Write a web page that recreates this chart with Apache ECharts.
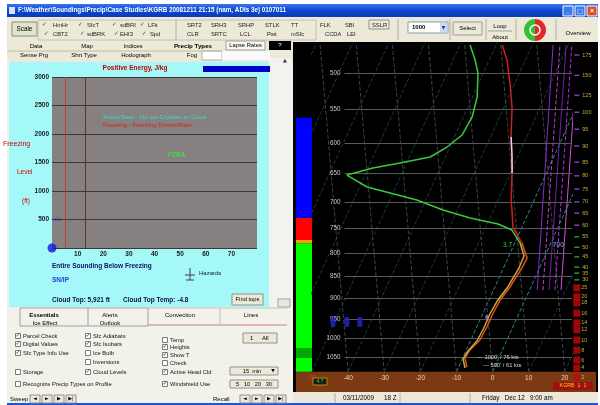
<!DOCTYPE html>
<html><head><meta charset="utf-8">
<script src="https://cdn.jsdelivr.net/npm/echarts@6/dist/echarts.min.js"></script>
<style>html,body{margin:0;padding:0;background:#fff;}#c{width:600px;height:405px;}</style>
</head><body><div id="c"></div>
<script>
// ---------------- DATA ----------------
// Left panel: positive energy chart
const freezeLevelTicks = [0, 500, 1000, 1500, 2000, 2500, 3000];
const energyTicks = [0, 10, 20, 30, 40, 50, 60, 70, 80];
const energyMarkers = [5, 13];
const sfcPoint = [[0, 0]];
const sfcMarker = [[0, 500]];

// Right panel: skew-T sounding (T in degC, p in mb)
const isobarLevels = [500, 550, 600, 650, 700, 750, 800, 850, 900, 950, 1000, 1050];
const isothermTicks = [-50, -40, -30, -20, -10, 0, 10, 20];
const isothermLines = [-90, -80, -70, -60, -50, -40, -30, -20, -10, 0, 10, 20];
const dryAdiabatBase = [-40, -30, -20, -10, 0, 10, 20];
const dryAdiabatTop = [-89, -79, -69, -59, -49, -39, -29];
const mixRatioBaseP = 881, mixRatioTopP = 464.7;
const mixRatioBase = [2.1, 3.7, 5.4, 7.0, 8.7];
const mixRatioTop = [-24.2, -22.3, -20.6, -19.0, -17.3];
const surfaceP = 1091, topP = 462.3, bottomP = 1150;

const tempProfile = [[-38.3,464.7],[-35.1,483.3],[-31.4,513.2],[-27.8,546.4],[-24.3,590.9],[-21.8,619.4],[-19.5,649.2],[-16.4,696.6],[-14.9,715.1],[-12.5,747.5],[-8.0,779.4],[-4.7,810.5],[-4.9,832.0],[-5.8,874.1],[-6.9,904.4],[-7.2,935.6],[-7.2,970.5],[-7.5,1004.0],[-9.0,1030.6],[-9.4,1052.4],[-7.7,1077.4]];
const tempHighlight = [[-24.3,590.9],[-21.8,619.4],[-19.5,649.2]];
const dewUpper = [[-47.2,464.7],[-43.9,483.3],[-41.5,500.0],[-38.7,532.3],[-37.6,560.8],[-38.1,587.8],[-40.8,606.6],[-44.2,622.6],[-51.8,632.5],[-58.7,640.7],[-65.0,652.6],[-57.9,673.3],[-50.8,684.0],[-42.5,696.6],[-34.0,715.1],[-25.5,730.1],[-17.0,741.7],[-12.4,753.4],[-8.5,779.4]];
const dewLower = [[-8.5,779.4],[-5.8,806.3],[-5.7,832.0],[-6.5,876.6],[-7.6,906.8],[-8.0,938.1],[-7.9,973.0],[-8.2,1006.6],[-9.4,1033.2],[-9.8,1055.0],[-8.1,1080.1]];
const windDots = [[-50.4,957.9],[-46.6,957.9],[-43.0,957.9]];
const paleDot = [[-8.4,945.5]];

// precipitation-type column
const precipTop = [562, 730, 773, 780, 1025, 1052];
const precipBot = [730, 773, 780, 1025, 1052, 1091];
const precipKind = ['snow', 'warm', 'mix', 'rain', 'rain2', 'rain'];

// right height label column
const heightLabels = ['175','150','125','100','95','90','85','80','75','70','65','60','55','50','45','40','35','30','25','20','18','16','14','12','10','8','6','4','2'];
const heightLabelP = [477,503,530,554,579,605,631,654,677,700,721,744,767,788,808,830,843,858,876,897,911,936,960,978,1004,1031,1058,1080,1106];

// ---------------- STYLE / LAYOUT ----------------
const FF = '"Liberation Sans", Arial, sans-serif';
const K = 48; // skew
const sk = (t, p) => t + K * Math.log(surfaceP / p);
const skPts = arr => arr.map(d => [sk(d[0], d[1]), d[1]]);
const isobarStartX = -41;
const precipColor = {snow:'#0000ff', warm:'#ff0000', mix:'#ff9a00', rain:'#00ff00', rain2:'#00a800'};

const G = [];
function R(x,y,w,h,fill,stroke,z,lw){G.push({type:'rect',z:(z===undefined?-10:z),silent:true,shape:{x,y,width:w,height:h},style:{fill:fill||'none',stroke:stroke||null,lineWidth:lw||1}});}
function T(x,y,text,color,size,o){o=o||{};G.push({type:'text',z:(o.z===undefined?20:o.z),silent:true,style:{text,x,y,fill:color,fontSize:size||7,fontFamily:o.ff||FF,fontWeight:o.bold?'bold':'normal',align:o.align||'left',verticalAlign:'middle'}});}
function L(x1,y1,x2,y2,color,z,lw){G.push({type:'line',z:(z===undefined?-9:z),silent:true,shape:{x1,y1,x2,y2},style:{stroke:color,lineWidth:lw||1}});}

// window body + title bar
R(7,4,591,400,'#f3f2ea');
G.push({type:'rect',z:-10,silent:true,shape:{x:7,y:4,width:591,height:13},style:{fill:{type:'linear',x:0,y:0,x2:0,y2:1,colorStops:[{offset:0,color:'#3a74ee'},{offset:0.5,color:'#0a48d4'},{offset:1,color:'#0a3cb4'}]}}});
R(9,7,6,7,'#d8e4ff',null,-9);
T(18,10.5,'F:\\Weather\\Soundings\\Precip\\Case Studies\\KGRB 20081211 21:15 (nam, ADIs 3e) 0107011','#ffffff',6.3,{bold:true});
R(563,6,10,10,'#3a7af0','#ffffff',-9); R(575,6,10,10,'#3a7af0','#ffffff',-9); R(587,6,10,10,'#d8502e','#ffffff',-9);
T(568,11,'_','#fff',6,{align:'center',bold:true}); T(580,11,'□','#fff',6,{align:'center',ff:'DejaVu Sans'}); T(592,11,'×','#fff',7,{align:'center',bold:true});

// toolbar
R(7,17,591,25,'#ece9d8');
R(12,22,25,14,'#dde6c6','#8a8a8a',-9);
T(24.5,29,'Scale','#000',6.3,{align:'center'});
R(38,20,138,20,null,'#c4c2b4',-9);
R(176,20,140,20,null,'#c4c2b4',-9);
const row1 = [[53,'HmHr'],[87,'SfcT'],[120,'sdBRI'],[148,'LFk'],[187,'SRT2'],[211,'SRH3'],[238,'SRHP'],[265,'STLK'],[291,'TT'],[320,'FLK'],[345,'SBI']];
const row2 = [[53,'CBT2'],[87,'sdBRK'],[120,'EHI3'],[150,'Spd'],[187,'CLR'],[211,'SRTC'],[240,'LCL'],[267,'Pwt'],[291,'mSfc'],[325,'CCDA'],[347,'LEI']];
row1.forEach(r=>T(r[0],25,r[1],'#202020',5.8));
row2.forEach(r=>T(r[0],34,r[1],'#202020',5.8));
[42,78,112,140].forEach(x=>{T(x,25,'✓','#333',5.5,{ff:'DejaVu Sans'}); T(x+2,34,'✓','#333',5.5,{ff:'DejaVu Sans'});});
R(369,20,20,9,null,'#909090',-9); T(372,25,'SSLR','#202020',5.8);
L(398,19,398,40,'#b0ae9e');
R(408,22,40,11,'#ffffff','#7f9db9',-9); T(412,27.5,'1000','#000',6,{bold:true});
R(440,23,7,9,'#c8d8f8',null,-8); T(443.5,27.5,'▼','#203060',4.5,{align:'center',ff:'DejaVu Sans'});
L(450,19,450,40,'#b0ae9e');
R(453,22,29,13,'#ece9d8','#9a9a9a',-9); T(467.5,28.5,'Select','#000',6,{align:'center'});
L(486,19,486,40,'#b0ae9e');
T(500,26,'Loop','#000',6,{align:'center'}); L(488,31,512,31,'#a0a0a0'); T(500,37,'About','#000',6,{align:'center'});
L(516,19,516,40,'#b0ae9e');
G.push({type:'sector',z:-8,silent:true,shape:{cx:535,cy:30,r:11,startAngle:Math.PI/2,endAngle:Math.PI*1.5},style:{fill:'#34c034'}});
G.push({type:'sector',z:-8,silent:true,shape:{cx:535,cy:30,r:11,startAngle:-Math.PI/2,endAngle:Math.PI/2},style:{fill:'#e02828'}});
G.push({type:'circle',z:-7,silent:true,shape:{cx:535,cy:30,r:5},style:{fill:'none',stroke:'#ffffff',lineWidth:1.5}});
L(556,19,556,40,'#b0ae9e');
T(578,33,'Overview','#000',6,{align:'center'});

// tabs row
R(7,41,286,21,'#ece9d8');
T(36,46,'Data','#000',6,{align:'center'}); T(87,46,'Map','#000',6,{align:'center'});
T(133,46,'Indices','#000',6,{align:'center'}); T(193,46,'Precip Types','#000',6.2,{align:'center',bold:true});
R(226,41,39,9,'#f6f6f2','#a0a0a0',-9); T(245.5,45.5,'Lapse Rates','#000',5.8,{align:'center'});
R(269,41,22,9,'#000000',null,-9); T(280,45.5,'?','#fff',6,{align:'center'});
T(34,55.5,'Sense Prg','#000',6,{align:'center'}); T(84,55.5,'Shrt Type','#000',6,{align:'center'});
T(136,55.5,'Hodograph','#000',6,{align:'center'}); T(192,55.5,'Fog','#000',6,{align:'center'});
R(202,51,20,9,'#ffffff','#b0b0b0',-9);
R(222,51,48,9,'#fafafa',null,-9);
L(7,51,222,51,'#c0bead');

// left panel
R(9,62,260,245,'#a4f8f8');
R(269,58,22,250,'#f2f2ee');
T(285,61,'▲','#333',5,{align:'center',ff:'DejaVu Sans'});
R(278,299,12,8,'#e8e8e0','#a0a0a0',-9);
T(135,68,'Positive Energy, J/kg','#c00000',6.5,{align:'center',bold:true});
R(203,66,67,6,'#0000c8',null,-8);
T(103,117,'Snow/Sleet - No Ice Crystals in Cloud','#3cd8c8',6.2);
T(103,125,'Freezing - Freezing Drizzle/Rain','#d82020',6.2);
T(168,155,'FZRA','#44d844',6.5,{bold:true});
T(3,144,'Freezing','#d00000',7);
T(17,172,'Level','#d00000',6.5);
T(22,201,'(ft)','#d00000',6.5);
T(52,266,'Entire Sounding Below Freezing','#101060',6.5,{bold:true});
T(52,280,'SN/IP','#2040e0',6.5,{bold:true});
L(190,268,190,280,'#404040',20); L(185,275,195,275,'#404040',20); L(186,280,194,280,'#404040',20);
T(199,273,'Hazards','#202020',6);
T(52,300,'Cloud Top: 5,921 ft','#101040',6.5,{bold:true});
T(123,300,'Cloud Top Temp: -4.8','#101040',6.5,{bold:true});
R(232,294,31,11,'#ece9d8','#909090',-8); T(247.5,299.5,'Find tops','#000',5.8,{align:'center'});

// lower-left controls
R(7,307,286,96,'#f3f2ea');
R(20,308,128,18,null,'#a0a0a0',-9); L(88,308,88,326,'#a0a0a0'); L(148,325,287,325,'#c88080');
L(148,308,287,308,'#c0c0c0'); L(220,308,220,325,'#c0c0c0');
T(44,315,'Essentials','#000',6,{align:'center',bold:true}); T(110,315,'Alerts','#000',6,{align:'center'});
T(180,315,'Convection','#000',6,{align:'center'}); T(251,315,'Lines','#000',6,{align:'center'});
T(45,323,'Ice Effect','#000',6,{align:'center'}); T(110,323,'Outlook','#000',6,{align:'center'});
function CB(x,y,c,label){R(x-2.5,y-2.5,5,5,'#ffffff','#7a7a7a',-8); if(c) T(x,y,'✓','#222',5.5,{align:'center',ff:'DejaVu Sans'}); T(x+5,y,label,'#111',5.8);}
CB(18,336,true,'Parcel Check'); CB(18,344,true,'Digital Values'); CB(18,353,true,'Sfc Type Info Use');
CB(18,372,false,'Storage'); CB(18,384,false,'Recognize Precip Types on Profile');
CB(88,336,true,'Sfc Adiabats'); CB(88,344,true,'Sfc Isobars'); CB(88,353,false,'Ice Bulb');
CB(88,362,false,'Inversions'); CB(88,372,true,'Cloud Levels');
CB(165,340,false,'Temp'); CB(165,347,true,'Heights'); CB(165,355,true,'Show T');
CB(165,363,false,'Check'); CB(165,372,true,'Active Head Cld'); CB(165,384,true,'Windshield Use');
R(243,333,34,10,'#ece9d8','#909090',-8); T(250,338,'1','#000',6); T(262,338,'All','#000',6);
R(230,367,48,8,'#ece9d8','#909090',-8); T(252,371,'15  min','#000',5.6,{align:'center'}); T(273,371,'▼','#000',4.5,{align:'center',ff:'DejaVu Sans'});
R(230,380,48,8,'#ece9d8','#909090',-8); T(254,384,'5   10   20   30','#000',5.6,{align:'center'});
T(10,399,'Sweep','#000',6);
['◄','►','▶','▶|'].forEach((s,i)=>{R(30+i*12,395,10,8,'#ece9d8','#909090',-8); T(35+i*12,399,s,'#000',5,{align:'center',ff:'DejaVu Sans'});});
T(213,399,'Recall','#000',6);
['◄','►','▶','▶|'].forEach((s,i)=>{R(240+i*12,395,10,8,'#ece9d8','#909090',-8); T(245+i*12,399,s,'#000',5,{align:'center',ff:'DejaVu Sans'});});

// right panel
R(293,42,305,351,'#000000');
R(293,392,305,11,'#ece9d8');
L(335,393,335,403,'#b0ae9e'); L(400,393,400,403,'#b0ae9e'); L(470,393,470,403,'#b0ae9e');
T(343,398,'03/11/2009','#000',6.3); T(384,398,'18 Z','#000',6.3);
T(482,398,'Friday   Dec 12   9:00 am','#000',6.3);
T(503,245,'3.7','#40d040',6.5);
T(553,245,'700','#80a8ff',6.5);
T(477,357,"— 1000' / 76 kts",'#d8d8d8',5.8);
T(483,365,"— 500' / 61 kts",'#d8d8d8',5.8);
R(313,378,14,7,'#181818','#b09000',20); T(320,381.5,'4.7','#40e040',5,{align:'center',z:21});
R(553,382,40,8,'#a01010',null,20); T(573,386,'KGRB  1  1','#f0d000',5.3,{align:'center',z:21});
R(7,403,591,2,'#1a56d8');

// ---------------- CHART ----------------
const chart = echarts.init(document.getElementById('c'), null, {renderer:'canvas', width:600, height:405});
const skewAx = {xAxisIndex:1, yAxisIndex:1};
const logY = gi => ({gridIndex:gi, type:'log', logBase:10, min:topP, max:bottomP, inverse:true, show:false});
const xMax = 22;
const plain = v => String(v);
const option = {
  animation:false,
  backgroundColor:'#ffffff',
  textStyle:{fontFamily:FF},
  grid:[
    {left:52, top:77, width:205, height:171, show:true, backgroundColor:'#868080', borderWidth:0, containLabel:false, outerBoundsMode:'none'},
    {left:312, top:43, width:260, height:349, show:false, containLabel:false, outerBoundsMode:'none'},
    {left:296, top:43, width:16, height:349, show:false, containLabel:false, outerBoundsMode:'none'},
    {left:572, top:43, width:24, height:349, show:false, containLabel:false, outerBoundsMode:'none'}
  ],
  xAxis:[
    {gridIndex:0, type:'value', min:energyTicks[0], max:energyTicks[energyTicks.length-1], interval:energyTicks[1]-energyTicks[0],
     axisLine:{show:false}, axisTick:{show:false}, splitLine:{show:false},
     axisLabel:{fontSize:6.5, fontWeight:'bold', color:'#1a1a1a', margin:3, showMinLabel:false, showMaxLabel:false, formatter:plain}},
    {gridIndex:1, type:'value', min:isothermTicks[0], max:xMax, interval:isothermTicks[1]-isothermTicks[0], z:10,
     axisLine:{show:false}, axisTick:{show:false}, splitLine:{show:false},
     axisLabel:{inside:true, margin:10, fontSize:6.5, showMaxLabel:false, showMinLabel:true, formatter:plain,
       color:(v)=> (Number(v)===isothermTicks[0] ? '#e03030' : '#f0d8b0')}},
    {gridIndex:2, type:'value', min:0, max:1, show:false},
    {gridIndex:3, type:'value', min:0, max:1, show:false}
  ],
  yAxis:[
    {gridIndex:0, type:'value', min:freezeLevelTicks[0], max:freezeLevelTicks[freezeLevelTicks.length-1], interval:freezeLevelTicks[1]-freezeLevelTicks[0],
     axisLine:{show:false}, axisTick:{show:false}, splitLine:{show:true, lineStyle:{color:'#3c3838', width:1}},
     axisLabel:{fontSize:6.5, fontWeight:'bold', color:'#1a1a1a', margin:3, showMinLabel:false, formatter:plain}},
    logY(1), logY(2), logY(3)
  ],
  series:[
    {type:'scatter', xAxisIndex:0, yAxisIndex:0, data:sfcPoint, symbolSize:9, itemStyle:{color:'#1414d8'}, z:5,
     markLine:{silent:true, symbol:'none', label:{show:false}, animation:false,
       data: energyMarkers.map((v,i)=>({xAxis:v, lineStyle:{color: i===0 ? '#c83a3a' : '#5c3434', width:1, type:'solid'}}))}},
    {type:'scatter', xAxisIndex:0, yAxisIndex:0, data:sfcMarker, symbolSize:1, itemStyle:{color:'#2030e0'},
     label:{show:true, position:'right', distance:1, formatter:'sfc', color:'#2030e0', fontSize:6}},
    // isotherms
    {type:'lines', coordinateSystem:'cartesian2d', ...skewAx, z:2, silent:true,
     data: isothermLines.map(t=>({coords:[[sk(t,surfaceP),surfaceP],[sk(t,topP),topP]],
        lineStyle:{color:(t===0||t===-10)?'#26888e':'#163c48'}})),
     lineStyle:{width:1, type:'dashed', opacity:1}},
    // dry adiabats
    {type:'lines', coordinateSystem:'cartesian2d', ...skewAx, z:2, silent:true,
     data: dryAdiabatBase.map((t,i)=>({coords:[[sk(t,surfaceP),surfaceP],[sk(dryAdiabatTop[i],topP),topP]]})),
     lineStyle:{width:1, type:'dashed', color:'#404040', opacity:1}},
    // mixing ratio lines
    {type:'lines', coordinateSystem:'cartesian2d', ...skewAx, z:2, silent:true,
     data: mixRatioBase.map((t,i)=>({coords:[[sk(t,mixRatioBaseP),mixRatioBaseP],[sk(mixRatioTop[i],mixRatioTopP),mixRatioTopP]],
        lineStyle:{color:['#8a2ad0','#c040c8','#7020b0','#b030e0','#d050d0'][i], type: i%2 ? 'dashed' : 'solid'}})),
     lineStyle:{width:1, opacity:1}},
    // isobars
    {type:'lines', coordinateSystem:'cartesian2d', ...skewAx, z:3, silent:true,
     data: isobarLevels.map(p=>({name:String(p), coords:[[isobarStartX,p],[xMax,p]]})),
     lineStyle:{width:1, type:'solid', color:'#5a5a5a', opacity:1},
     label:{show:true, position:'start', formatter:'{b}', color:'#c8c8c8', fontSize:6.3, distance:4}},
    // temperature
    {type:'line', ...skewAx, z:6, symbol:'none', data: skPts(tempProfile.filter(d=>d[1]<=779.4)),
     lineStyle:{color:'#cc2020', width:1.5}},
    {type:'line', ...skewAx, z:6, symbol:'none', data: skPts(tempProfile.filter(d=>d[1]>=779.4)),
     lineStyle:{color:'#e0561c', width:1.5}},
    {type:'line', ...skewAx, z:7, symbol:'none', data: skPts(tempHighlight),
     lineStyle:{color:'#f4c8f4', width:1.5}},
    // dewpoint
    {type:'line', ...skewAx, z:6, symbol:'none', data: skPts(dewUpper),
     lineStyle:{color:'#3cc83c', width:1.5}},
    {type:'line', ...skewAx, z:6, symbol:'none', data: skPts(dewLower),
     lineStyle:{color:'#c8a838', width:1.5}},
    {type:'scatter', ...skewAx, z:6, data: skPts(windDots), symbol:'roundRect', symbolSize:[5,10],
     itemStyle:{color:'#2424d0'}},
    {type:'scatter', ...skewAx, z:6, data: skPts(paleDot), symbolSize:4, itemStyle:{color:'#8888c8'}},
    // ground band in sounding
    {type:'line', ...skewAx, z:1, symbol:'none', data:[[isothermTicks[0], bottomP]],
     markArea:{silent:true, itemStyle:{color:'#7b3a14'}, data:[[{yAxis:surfaceP},{yAxis:bottomP}]]}},
    // precip type column
    {type:'line', xAxisIndex:2, yAxisIndex:2, z:1, symbol:'none', data:[[0.5, bottomP]],
     markArea:{silent:true, data: precipTop.map((t,i)=>[{yAxis:t, itemStyle:{color:precipColor[precipKind[i]]}},{yAxis:precipBot[i]}])
       .concat([[{yAxis:surfaceP, itemStyle:{color:'#7b3a14'}},{yAxis:bottomP}]])}},
    // height label column
    {type:'scatter', xAxisIndex:3, yAxisIndex:3, z:5,
     data: heightLabelP.map((p,i)=>({name:heightLabels[i], value:[0.2,p],
        symbol:'rect', symbolSize: p>=876 ? [7,7] : [5,1.5],
        itemStyle:{color: p>=876 ? '#c80808' : (p>=767 ? '#30c030' : '#b040ff')},
        label:{distance: p>=876 ? 1 : 3}})),
     label:{show:true, position:'right', formatter:'{b}', color:'#e6df4a', fontSize:5.5},
     markArea:{silent:true, itemStyle:{color:'#7b3a14'}, data:[[{yAxis:surfaceP},{yAxis:bottomP}]]}}
  ],
  graphic:{elements:G}
};
chart.setOption(option);
</script>
</body></html>
